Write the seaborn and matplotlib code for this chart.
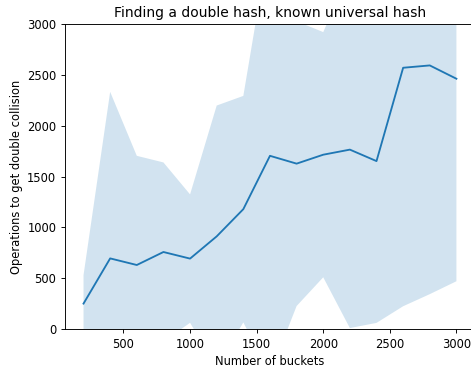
import numpy as np
import pandas as pd
import matplotlib
matplotlib.use("Agg")
import matplotlib.pyplot as plt
import seaborn as sns

# number of buckets tested
buckets = [200, 400, 600, 800, 1000, 1200, 1400, 1600, 1800, 2000, 2200, 2400, 2600, 2800, 3000]
# mean operations until a double collision
mean_ops = [250, 695, 630, 758, 693, 912, 1180, 1705, 1628, 1716, 1766, 1653, 2572, 2595, 2464]
# standard deviation of the runs (shaded band = mean +/- sd)
sd_ops = [280, 1640, 1075, 882, 632, 1288, 1115, 2150, 1402, 1207, 1757, 1593, 2348, 2252, 1994]

df = pd.DataFrame({"buckets": buckets, "mean": mean_ops, "sd": sd_ops})
df["lo"] = df["mean"] - df["sd"]
df["hi"] = df["mean"] + df["sd"]

# the reference looks like a default figure scaled down ~0.83
s = 0.83
plt.rcParams.update({
    "font.size": 10 * s,
    "axes.titlesize": 12 * s,
    "axes.labelsize": 10 * s,
    "xtick.labelsize": 10 * s,
    "ytick.labelsize": 10 * s,
    "axes.linewidth": 0.8 * s,
    "xtick.major.size": 3.5 * s,
    "ytick.major.size": 3.5 * s,
    "xtick.major.width": 0.8 * s,
    "ytick.major.width": 0.8 * s,
    "lines.linewidth": 1.6 * s,
    "axes.titlepad": 6 * s,
    "axes.labelpad": 4 * s,
})

fig = plt.figure(figsize=(4.71, 3.68), dpi=100)
# right edge of the axes falls just past the image, as in the reference
ax = fig.add_axes([0.1386, 0.106, 0.870, 0.828])

color = sns.color_palette()[0]
sns.lineplot(data=df, x="buckets", y="mean", color=color, ax=ax)
ax.fill_between(df["buckets"], df["lo"], df["hi"], color=color, alpha=0.2, linewidth=0)

ax.set_xlim(63, 3140)
ax.set_ylim(0, 3000)
ax.set_title("Finding a double hash, known universal hash")
ax.set_xlabel("Number of buckets")
ax.set_ylabel("Operations to get double collision")

fig.savefig("out.png", dpi=100)
